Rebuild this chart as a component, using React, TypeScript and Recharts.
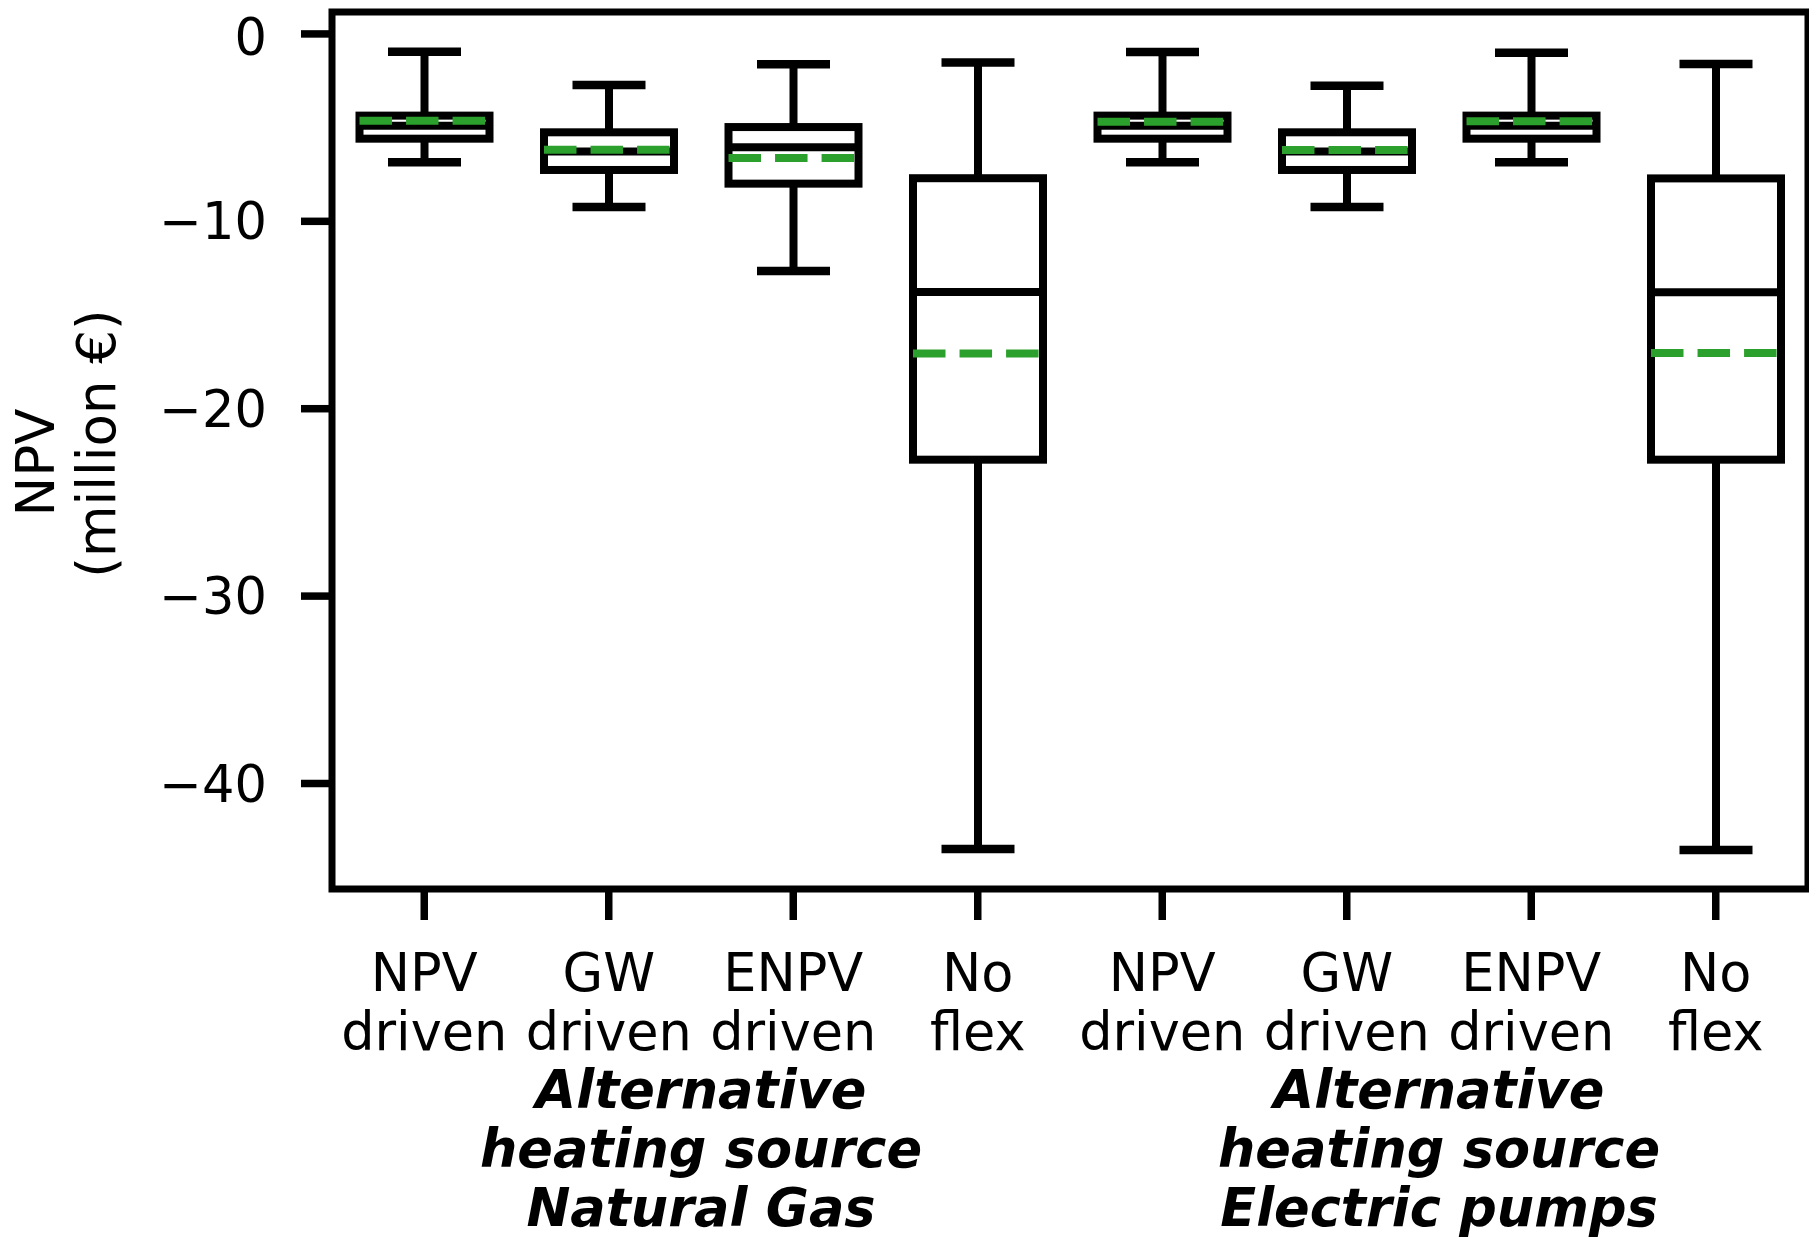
import React from 'react'
import { ComposedChart, Bar, XAxis, YAxis, ReferenceArea, Label } from 'recharts'

// categories (two text lines per tick) and group captions
const TICK_TOP = ['NPV', 'GW', 'ENPV', 'No', 'NPV', 'GW', 'ENPV', 'No']
const TICK_BOTTOM = ['driven', 'driven', 'driven', 'flex', 'driven', 'driven', 'driven', 'flex']
const GROUP_LABELS = [
  ['Alternative', 'heating source', 'Natural Gas'],
  ['Alternative', 'heating source', 'Electric pumps'],
]
const Y_TICKS = [-40, -30, -20, -10, 0]

// box statistics, million €
const WHISKER_HIGH = [-0.95, -2.72, -1.62, -1.53, -0.96, -2.76, -1.01, -1.6]
const Q3 = [-4.36, -5.25, -4.97, -7.7, -4.36, -5.25, -4.36, -7.71]
const MEDIAN = [-4.9, -6.28, -6.05, -13.77, -4.9, -6.28, -4.9, -13.78]
const MEAN = [-4.63, -6.18, -6.62, -17.05, -4.68, -6.2, -4.66, -17.03]
const Q1 = [-5.59, -7.26, -7.99, -22.72, -5.59, -7.26, -5.59, -22.72]
const WHISKER_LOW = [-6.85, -9.24, -12.65, -43.5, -6.85, -9.24, -6.85, -43.55]

const Y_MIN = -45.63
const Y_MAX = 1.17

const W = 1809
const H = 1229
const MARGIN = { top: 4, right: 9, bottom: 0, left: 0 }
const Y_AXIS_W = 324
const X_AXIS_H = 348
const STEP = (W - MARGIN.right - Y_AXIS_W) / TICK_TOP.length

const FONT = 'DejaVu Sans'
const MEAN_COLOR = '#2ca02c'
const BOX_W = 130

const data = TICK_TOP.map((t, i) => ({
  id: `${t} ${TICK_BOTTOM[i]} ${i}`,
  idx: i,
  range: [WHISKER_LOW[i], WHISKER_HIGH[i]],
  q1: Q1[i],
  median: MEDIAN[i],
  mean: MEAN[i],
  q3: Q3[i],
}))

const minus = (v: number) => String(v).replace('-', '\u2212')

function BoxShape(props: any) {
  const { x, y, width, height, payload } = props
  const cx = x + width / 2
  const top = Math.min(y, y + height)
  const bottom = Math.max(y, y + height)
  const [lo, hi] = payload.range
  const py = (v: number) => top + ((hi - v) / (hi - lo)) * (bottom - top)
  const half = BOX_W / 2
  const cap = 36.5
  const yq3 = py(payload.q3)
  const yq1 = py(payload.q1)
  const dash = BOX_W * 0.25
  const gap = BOX_W * 0.108
  return (
    <g>
      <line x1={cx} x2={cx} y1={py(hi)} y2={yq3} stroke="#000" strokeWidth={8} />
      <line x1={cx} x2={cx} y1={yq1} y2={py(lo)} stroke="#000" strokeWidth={8} />
      <line x1={cx - cap} x2={cx + cap} y1={py(hi)} y2={py(hi)} stroke="#000" strokeWidth={8.5} />
      <line x1={cx - cap} x2={cx + cap} y1={py(lo)} y2={py(lo)} stroke="#000" strokeWidth={8.5} />
      <rect x={cx - half} y={yq3} width={BOX_W} height={yq1 - yq3} fill="#fff" stroke="#000" strokeWidth={8} />
      <line x1={cx - half} x2={cx + half} y1={py(payload.median)} y2={py(payload.median)} stroke="#000" strokeWidth={8} />
      <line
        x1={cx - half} x2={cx + half}
        y1={py(payload.mean)} y2={py(payload.mean)}
        stroke={MEAN_COLOR} strokeWidth={8} strokeDasharray={`${dash} ${gap}`}
      />
    </g>
  )
}

function XTick(props: any) {
  const { x, y, index } = props
  const textStyle = { fontFamily: FONT, fontSize: 52.5, fill: '#000' }
  const g = index === 1 ? GROUP_LABELS[0] : index === 5 ? GROUP_LABELS[1] : null
  return (
    <g>
      <text x={x} y={y + 71} textAnchor="middle" style={textStyle}>{TICK_TOP[index]}</text>
      <text x={x} y={y + 130} textAnchor="middle" style={textStyle}>{TICK_BOTTOM[index]}</text>
      {g && g.map((line, k) => (
        <text
          key={k}
          x={x + STEP / 2}
          y={y + 188 + k * 59}
          textAnchor="middle"
          style={{ ...textStyle, fontWeight: 'bold', fontStyle: 'italic' }}
        >
          {line}
        </text>
      ))}
    </g>
  )
}

function YLabel(props: any) {
  const vb = props.viewBox
  const mid = vb.y + vb.height / 2
  const st = { fontFamily: FONT, fontSize: 53, fill: '#000' }
  const x1 = vb.x + 27
  const y1 = mid + 12
  const x2 = vb.x + 88
  const y2 = mid - 7
  return (
    <g>
      <text transform={`rotate(-90 ${x1} ${y1})`} x={x1} y={y1} textAnchor="middle" dominantBaseline="central" style={st}>NPV</text>
      <text transform={`rotate(-90 ${x2} ${y2})`} x={x2} y={y2} textAnchor="middle" dominantBaseline="central" style={st}>(million €)</text>
    </g>
  )
}

export default function App() {
  return (
    <div style={{ width: W, height: H, background: '#fff' }}>
      <ComposedChart width={W} height={H} data={data} margin={MARGIN}>
        <XAxis
          dataKey="id"
          type="category"
          interval={0}
          height={X_AXIS_H}
          axisLine={false}
          tickLine={{ stroke: '#000', strokeWidth: 7.5 }}
          tickSize={31}
          tickMargin={0}
          tick={<XTick />}
        />
        <YAxis
          type="number"
          domain={[Y_MIN, Y_MAX]}
          ticks={Y_TICKS}
          allowDataOverflow
          width={Y_AXIS_W}
          axisLine={false}
          tickLine={{ stroke: '#000', strokeWidth: 7.5 }}
          tickSize={31}
          tickMargin={34}
          tickFormatter={minus}
          tick={{ fill: '#000', fontSize: 51, fontFamily: FONT }}
        >
          <Label content={<YLabel />} />
        </YAxis>
        <Bar dataKey="range" barSize={137} shape={<BoxShape />} isAnimationActive={false} />
        <ReferenceArea y1={Y_MIN} y2={Y_MAX} fill="none" stroke="#000" strokeWidth={7} ifOverflow="visible" />
      </ComposedChart>
    </div>
  )
}
